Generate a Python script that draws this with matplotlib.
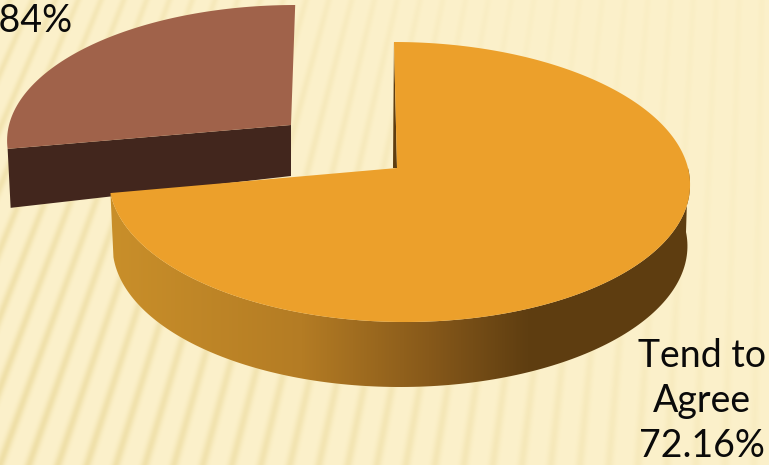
import numpy as np
import matplotlib
matplotlib.use('Agg')
import matplotlib.pyplot as plt
from matplotlib.colors import LinearSegmentedColormap
from matplotlib.patches import Polygon

labels = ['Tend to\nAgree', '']
shares = [72.16, 27.84]

W, H = 769, 465

plt.rcParams['font.family'] = ['Lato', 'DejaVu Sans']

fig = plt.figure(figsize=(W / 100, H / 100), dpi=100)
ax = fig.add_axes([0, 0, 1, 1])
ax.set_xlim(0, W)
ax.set_ylim(H, 0)
ax.axis('off')


# slide background: soft stripes fanning out from a point above the top edge
def background():
    xx, yy = np.meshgrid(np.arange(W) + 0.5, np.arange(H) + 0.5)
    vx, vy = 790.0, -1700.0
    at_bottom = vx + (xx - vx) * (H - vy) / (yy - vy)
    phase = at_bottom / 29.0
    stripe = np.exp(-((phase - np.round(phase)) / 0.16) ** 2)
    strength = np.clip(0.95 - 0.7 * xx / W - 0.35 * (1 - yy / H), 0.15, 1)
    base = np.array([252, 241, 203]) / 255
    dark = np.array([238, 222, 165]) / 255
    amount = (stripe * strength)[..., None]
    return base * (1 - amount) + dark * amount


ax.imshow(background(), extent=[0, W, H, 0], aspect='auto', zorder=0)


# rim of a disc seen in perspective, the near side comes out larger
def rim(theta, cx, cy, rx, ry, p, shear):
    t = np.radians(theta)
    w = 1 + p * np.sin(t)
    dy = ry * np.sin(t) / w
    return np.column_stack([cx + rx * np.cos(t) / w + shear * dy, cy - dy])


sweep = [s / sum(shares) * 360 for s in shares]
start = 90
split = start - sweep[0]  # clockwise from twelve o'clock

# brown slice, pulled out to the upper left
apex_b = np.array([291, 125])
arc_b = rim(np.linspace(start, start + sweep[1], 80), 291, 125, 282, 132, 0.1, 0.035)
corner = arc_b[-1]
drop = np.array([[corner[0] + 3, corner[1] + 59], [291, 176], [291, 125]])
ax.add_patch(Polygon(np.vstack([[corner], drop]), closed=True, fc='#42261d', ec='none', zorder=2))
ax.add_patch(Polygon(np.vstack([[apex_b], arc_b]), closed=True, fc='#a0624a', ec='none', zorder=3))

# orange slice: side wall first, shaded left to right
apex_o = np.array([397, 168])
front = np.linspace(split, 0, 160)
top_edge = rim(front, 399, 168, 289, 138.6, 0.1, -0.04)
low_edge = rim(front, 400, 232, 286, 139.5, 0.1, 0.0)
wall = Polygon(np.vstack([top_edge, low_edge[::-1]]), closed=True, fc='none', ec='none')
ax.add_patch(wall)
shade = LinearSegmentedColormap.from_list('wall', [
    (0.0, '#c98f2a'), (0.33, '#b47c24'), (0.55, '#87591a'), (0.72, '#5f3e11'), (1.0, '#5e3d10')])
im = ax.imshow(np.linspace(0, 1, 256)[None, :], cmap=shade, extent=[110, 690, 400, 150],
               aspect='auto', zorder=4)
im.set_clip_path(wall)
ax.set_xlim(0, W)
ax.set_ylim(H, 0)

# thin dark cut face beside the twelve o'clock edge
arc_o = rim(np.linspace(split, start, 300), 399, 168, 289, 138.6, 0.1, -0.04)
ax.add_patch(Polygon([arc_o[-1], apex_o, apex_o - [4, 0]], closed=True, fc='#5e3d10', ec='none', zorder=4))
ax.add_patch(Polygon(np.vstack([[apex_o], arc_o]), closed=True, fc='#eca02b', ec='none', zorder=5))

ax.text(702, 457, f'{labels[0]}\n{shares[0]:.2f}%', ha='center', va='baseline', fontsize=27,
        linespacing=1.31, color='#0a0a0a', zorder=6)
ax.text(72, 32, f'{shares[1]:.2f}%', ha='right', va='baseline', fontsize=27, color='#0a0a0a', zorder=6)

fig.savefig('out.png', dpi=100)
